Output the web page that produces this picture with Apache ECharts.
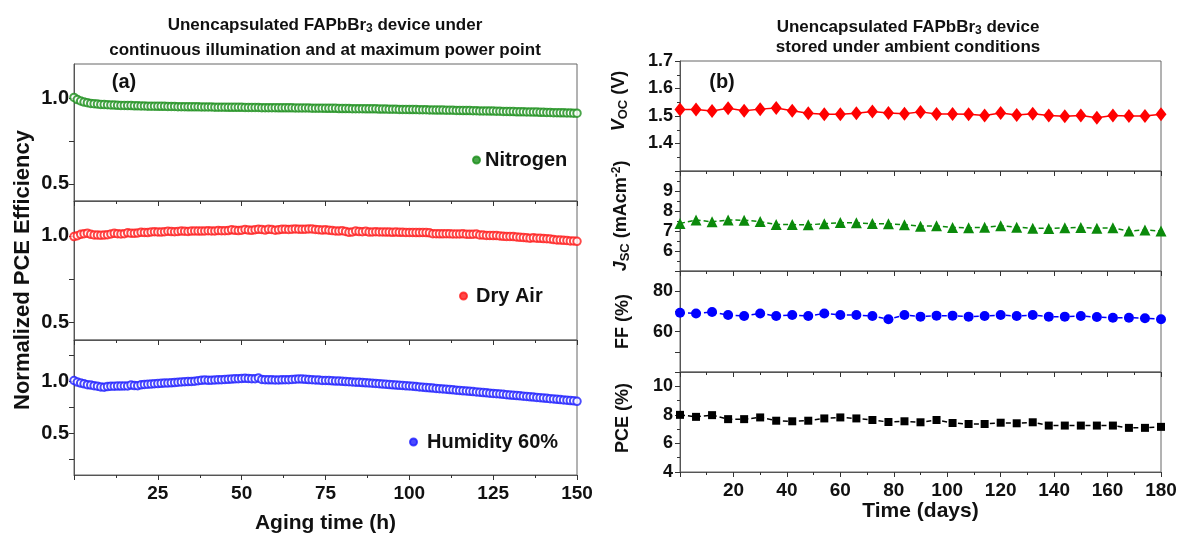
<!DOCTYPE html>
<html>
<head>
<meta charset="utf-8">
<script src="https://cdn.jsdelivr.net/npm/echarts@6/dist/echarts.min.js"></script>
<style>
html, body { margin: 0; padding: 0; background: #fff; }
#chart { width: 1180px; height: 535px; }
</style>
</head>
<body>
<div id="chart"></div>
<script>
// (a) normalized PCE, one value per hour, 0..150 h
const nitrogen = [
    1.005, 0.992, 0.984, 0.978, 0.974, 0.970, 0.968, 0.966, 0.964, 0.963,
    0.962, 0.961, 0.960, 0.959, 0.958, 0.958, 0.957, 0.957, 0.956, 0.956,
    0.955, 0.955, 0.954, 0.954, 0.954, 0.953, 0.953, 0.953, 0.952, 0.952,
    0.952, 0.951, 0.951, 0.951, 0.950, 0.950, 0.950, 0.950, 0.949, 0.949,
    0.949, 0.949, 0.948, 0.948, 0.948, 0.948, 0.947, 0.947, 0.947, 0.947,
    0.947, 0.946, 0.946, 0.946, 0.946, 0.946, 0.945, 0.945, 0.945, 0.945,
    0.945, 0.944, 0.944, 0.944, 0.944, 0.944, 0.943, 0.943, 0.943, 0.943,
    0.943, 0.942, 0.942, 0.942, 0.942, 0.941, 0.941, 0.941, 0.941, 0.940,
    0.940, 0.940, 0.940, 0.939, 0.939, 0.939, 0.939, 0.938, 0.938, 0.938,
    0.938, 0.937, 0.937, 0.937, 0.936, 0.936, 0.936, 0.935, 0.935, 0.935,
    0.934, 0.934, 0.934, 0.933, 0.933, 0.933, 0.932, 0.932, 0.931, 0.931,
    0.931, 0.930, 0.930, 0.930, 0.929, 0.929, 0.928, 0.928, 0.928, 0.927,
    0.927, 0.926, 0.926, 0.926, 0.925, 0.925, 0.924, 0.924, 0.923, 0.923,
    0.922, 0.922, 0.921, 0.921, 0.921, 0.920, 0.920, 0.919, 0.919, 0.918,
    0.918, 0.917, 0.917, 0.916, 0.916, 0.915, 0.915, 0.914, 0.914, 0.913,
    0.913
];
const dryAir = [
    0.995, 1.000, 1.008, 1.012, 1.015, 1.008, 1.005, 1.004, 1.003, 1.004,
    1.006, 1.010, 1.014, 1.012, 1.010, 1.012, 1.017, 1.015, 1.014, 1.016,
    1.020, 1.019, 1.018, 1.022, 1.023, 1.022, 1.021, 1.023, 1.026, 1.024,
    1.023, 1.025, 1.027, 1.026, 1.025, 1.027, 1.028, 1.027, 1.027, 1.028,
    1.029, 1.028, 1.028, 1.030, 1.029, 1.029, 1.030, 1.034, 1.031, 1.030,
    1.032, 1.036, 1.033, 1.031, 1.035, 1.037, 1.036, 1.033, 1.037, 1.036,
    1.032, 1.034, 1.037, 1.038, 1.036, 1.038, 1.039, 1.038, 1.037, 1.038,
    1.039, 1.039, 1.036, 1.035, 1.033, 1.034, 1.032, 1.030, 1.028, 1.027,
    1.029, 1.025, 1.020, 1.022, 1.027, 1.024, 1.023, 1.026, 1.021, 1.022,
    1.023, 1.022, 1.022, 1.021, 1.021, 1.020, 1.021, 1.020, 1.020, 1.019,
    1.019, 1.019, 1.018, 1.018, 1.019, 1.018, 1.017, 1.012, 1.012, 1.011,
    1.011, 1.012, 1.011, 1.010, 1.010, 1.010, 1.011, 1.009, 1.008, 1.009,
    1.010, 1.005, 1.004, 1.002, 1.002, 1.001, 1.001, 0.999, 0.997, 0.996,
    0.996, 0.995, 0.993, 0.991, 0.990, 0.988, 0.986, 0.988, 0.986, 0.985,
    0.984, 0.983, 0.982, 0.978, 0.976, 0.975, 0.974, 0.973, 0.970, 0.970,
    0.968
];
const humidity = [
    1.010, 0.995, 0.985, 0.978, 0.970, 0.966, 0.960, 0.955, 0.948, 0.945,
    0.952, 0.955, 0.955, 0.956, 0.956, 0.957, 0.957, 0.966, 0.961, 0.960,
    0.968, 0.972, 0.975, 0.976, 0.979, 0.980, 0.983, 0.985, 0.986, 0.988,
    0.990, 0.994, 0.996, 0.998, 1.000, 1.001, 1.003, 1.008, 1.012, 1.015,
    1.012, 1.013, 1.015, 1.017, 1.018, 1.020, 1.021, 1.024, 1.026, 1.027,
    1.030, 1.031, 1.030, 1.028, 1.027, 1.034, 1.020, 1.018, 1.017, 1.017,
    1.016, 1.016, 1.017, 1.018, 1.018, 1.020, 1.022, 1.025, 1.024, 1.021,
    1.019, 1.018, 1.016, 1.014, 1.011, 1.010, 1.009, 1.007, 1.005, 1.004,
    1.002, 1.000, 0.998, 0.996, 0.994, 0.992, 0.990, 0.988, 0.986, 0.984,
    0.982, 0.979, 0.976, 0.974, 0.971, 0.968, 0.966, 0.964, 0.962, 0.959,
    0.957, 0.955, 0.952, 0.948, 0.945, 0.942, 0.940, 0.937, 0.934, 0.931,
    0.929, 0.926, 0.923, 0.920, 0.917, 0.914, 0.911, 0.909, 0.906, 0.903,
    0.900, 0.897, 0.894, 0.891, 0.888, 0.886, 0.883, 0.880, 0.877, 0.873,
    0.870, 0.867, 0.865, 0.862, 0.859, 0.856, 0.853, 0.850, 0.847, 0.844,
    0.841, 0.838, 0.835, 0.832, 0.829, 0.826, 0.823, 0.820, 0.817, 0.814,
    0.810
];

// (b) stored under ambient conditions
const days = [0, 6, 12, 18, 24, 30, 36, 42, 48, 54, 60, 66, 72, 78, 84, 90, 96, 102, 108, 114, 120, 126, 132, 138, 144, 150, 156, 162, 168, 174, 180];
const voc = [1.524, 1.524, 1.518, 1.528, 1.519, 1.525, 1.529, 1.519, 1.510, 1.506, 1.506, 1.510, 1.516, 1.511, 1.508, 1.515, 1.507, 1.507, 1.506, 1.502, 1.511, 1.504, 1.508, 1.502, 1.499, 1.502, 1.494, 1.502, 1.500, 1.500, 1.506];
const jsc = [7.38, 7.55, 7.46, 7.55, 7.54, 7.47, 7.32, 7.32, 7.31, 7.36, 7.42, 7.41, 7.37, 7.36, 7.31, 7.24, 7.26, 7.18, 7.16, 7.19, 7.26, 7.19, 7.14, 7.13, 7.16, 7.18, 7.14, 7.16, 7.00, 7.05, 7.00];
const ff = [69.3, 69.0, 69.7, 68.2, 67.7, 69.0, 67.7, 68.2, 67.7, 69.0, 68.2, 68.2, 67.7, 66.1, 68.2, 67.4, 67.9, 67.9, 67.4, 67.7, 68.2, 67.7, 68.2, 67.4, 67.4, 67.7, 67.2, 66.9, 66.9, 66.6, 66.1];
const pce = [8.00, 7.86, 7.98, 7.70, 7.70, 7.82, 7.59, 7.55, 7.59, 7.75, 7.82, 7.75, 7.64, 7.50, 7.55, 7.48, 7.64, 7.43, 7.36, 7.36, 7.45, 7.41, 7.48, 7.25, 7.25, 7.25, 7.25, 7.25, 7.09, 7.09, 7.16];

const FONT = '"Liberation Sans", Arial, sans-serif';
const INK = '#111';

const chart = echarts.init(document.getElementById('chart'));

function xAx(grid, max, step, showLabels, extra) {
    return Object.assign({
        gridIndex: grid, type: 'value', min: 0, max: max, interval: step,
        axisLine: { show: true, lineStyle: { color: '#555', width: 1 } },
        axisTick: { show: true, inside: false, length: 5, lineStyle: { color: '#333' } },
        minorTick: { show: true, splitNumber: 2, length: 3, lineStyle: { color: '#333' } },
        splitLine: { show: false },
        axisLabel: { show: showLabels, showMinLabel: false, margin: 9, color: INK, fontFamily: FONT, fontWeight: 'bold', fontSize: 19 }
    }, extra || {});
}

function yAx(grid, opts) {
    return Object.assign({
        gridIndex: grid, type: 'value',
        axisLine: { show: true, lineStyle: { color: '#555', width: 1 } },
        axisTick: { show: true, inside: false, length: 5, lineStyle: { color: '#333' } },
        splitLine: { show: false }
    }, opts);
}

const leftLabel = { margin: 5, color: INK, fontFamily: FONT, fontWeight: 'bold', fontSize: 20, formatter: v => v.toFixed(1) };
const rightLabel = { margin: 7, color: INK, fontFamily: FONT, fontWeight: 'bold', fontSize: 18 };

const nameBase = { color: INK, fontFamily: FONT, fontWeight: 'bold', fontSize: 18 };
const nameRich = {
    n: nameBase,
    i: Object.assign({}, nameBase, { fontStyle: 'italic' }),
    s: Object.assign({}, nameBase, { fontSize: 13, padding: [9, 0, 0, 0] }),
    u: Object.assign({}, nameBase, { fontSize: 12, padding: [0, 0, 9, 0] })
};

const gridStyle = { show: true, borderColor: '#666', borderWidth: 1, backgroundColor: 'transparent' };

const titleRich = {
    b: { fontFamily: FONT, fontWeight: 'bold', fontSize: 17, fill: INK, color: INK },
    s: { fontFamily: FONT, fontWeight: 'bold', fontSize: 12, fill: INK, color: INK, padding: [8, 0, 0, 0] }
};

function gtext(x, y, text, size, extra) {
    return Object.assign({
        type: 'text', x: x, y: y,
        style: { text: text, fill: INK, fontFamily: FONT, fontWeight: 'bold', fontSize: size, align: 'center', verticalAlign: 'middle' }
    }, extra || {});
}

function legendAt(name, left, top, textPad) {
    return {
        data: [name], left: left, top: top, padding: 0, icon: 'circle',
        itemWidth: 7, itemHeight: 7, selectedMode: false,
        textStyle: { color: INK, fontFamily: FONT, fontWeight: 'bold', fontSize: 20, padding: [0, 0, 0, textPad] }
    };
}

function scatterSeries(name, values, color, idx) {
    return {
        name: name, type: 'scatter', xAxisIndex: idx, yAxisIndex: idx,
        data: values.map((v, h) => [h, v]),
        symbol: 'emptyCircle', symbolSize: 7.5,
        itemStyle: { color: color, borderColor: color, borderWidth: 2.2 },
        clip: false, silent: true
    };
}

function lineSeries(name, values, color, idx, symbol, size, dashed) {
    return {
        name: name, type: 'line', xAxisIndex: idx, yAxisIndex: idx,
        data: values.map((v, i) => [days[i], v]),
        symbol: symbol, symbolSize: size, showAllSymbol: true,
        itemStyle: { color: color },
        lineStyle: { color: color, width: 1.5, type: dashed ? [5, 3] : 'solid' },
        clip: false, silent: true
    };
}

const option = {
    animation: false,
    backgroundColor: '#fff',
    grid: [
        Object.assign({ left: 74, top: 64, width: 503, height: 137 }, gridStyle),
        Object.assign({ left: 74, top: 201, width: 503, height: 139 }, gridStyle),
        Object.assign({ left: 74, top: 340, width: 503, height: 137 }, gridStyle),
        Object.assign({ left: 680, top: 61, width: 481, height: 110 }, gridStyle),
        Object.assign({ left: 680, top: 171, width: 481, height: 100 }, gridStyle),
        Object.assign({ left: 680, top: 271, width: 481, height: 101 }, gridStyle),
        Object.assign({ left: 680, top: 372, width: 481, height: 100 }, gridStyle)
    ],
    xAxis: [
        xAx(0, 150, 25, false),
        xAx(1, 150, 25, false),
        xAx(2, 150, 25, true, {
            name: 'Aging time (h)', nameLocation: 'middle', nameGap: 38,
            nameTextStyle: { color: INK, fontFamily: FONT, fontWeight: 'bold', fontSize: 21 }
        }),
        xAx(3, 180, 20, false),
        xAx(4, 180, 20, false),
        xAx(5, 180, 20, false),
        xAx(6, 180, 20, true, {
            name: 'Time (days)', nameLocation: 'middle', nameGap: 27,
            nameTextStyle: { color: INK, fontFamily: FONT, fontWeight: 'bold', fontSize: 21 }
        })
    ],
    yAxis: [
        yAx(0, { min: 0.4, max: 1.2, axisLabel: Object.assign({ customValues: [0.5, 1.0] }, leftLabel),
            axisTick: { show: true, length: 5, customValues: [0.5, 0.75, 1.0], lineStyle: { color: '#333' } } }),
        yAx(1, { min: 0.4, max: 1.2, axisLabel: Object.assign({ customValues: [0.5, 1.0] }, leftLabel),
            axisTick: { show: true, length: 5, customValues: [0.5, 0.75, 1.0], lineStyle: { color: '#333' } } }),
        yAx(2, { min: 0.1, max: 1.4, axisLabel: Object.assign({ customValues: [0.5, 1.0] }, leftLabel),
            axisTick: { show: true, length: 5, customValues: [0.25, 0.5, 0.75, 1.0, 1.25], lineStyle: { color: '#333' } } }),
        yAx(3, { min: 1.3, max: 1.7, interval: 0.1,
            minorTick: { show: true, splitNumber: 2, length: 3, lineStyle: { color: '#333' } },
            axisLabel: Object.assign({ showMinLabel: false, formatter: v => v.toFixed(1) }, rightLabel),
            name: '{i|V}{s|OC}{n| (V)}', nameLocation: 'middle', nameGap: 50,
            nameTextStyle: { rich: nameRich, padding: [0, 0, 0, 30] } }),
        yAx(4, { min: 5, max: 10, interval: 1,
            minorTick: { show: true, splitNumber: 2, length: 3, lineStyle: { color: '#333' } },
            axisLabel: Object.assign({ showMinLabel: false, showMaxLabel: false }, rightLabel),
            name: '{i|J}{s|SC}{n| (mAcm}{u|-2}{n|)}', nameLocation: 'middle', nameGap: 48,
            nameTextStyle: { rich: nameRich, padding: [0, 0, 0, 10] } }),
        yAx(5, { min: 40, max: 90, interval: 10,
            axisLabel: Object.assign({ formatter: v => (v === 60 || v === 80) ? String(v) : '' }, rightLabel),
            name: 'FF (%)', nameLocation: 'middle', nameGap: 48,
            nameTextStyle: nameBase }),
        yAx(6, { min: 4, max: 11, interval: 2,
            minorTick: { show: true, splitNumber: 2, length: 3, lineStyle: { color: '#333' } },
            axisLabel: Object.assign({ showMaxLabel: false }, rightLabel),
            name: 'PCE (%)', nameLocation: 'middle', nameGap: 48,
            nameTextStyle: Object.assign({ padding: [0, 0, 0, 8] }, nameBase) })
    ],
    legend: [
        legendAt('Nitrogen', 472, 150, 0),
        legendAt('Dry Air', 459, 286, 4),
        legendAt('Humidity 60%', 409, 432, 5)
    ],
    series: [
        scatterSeries('Nitrogen', nitrogen, '#1b8f1b', 0),
        scatterSeries('Dry Air', dryAir, '#ff1a1a', 1),
        scatterSeries('Humidity 60%', humidity, '#1e1eff', 2),
        lineSeries('Voc', voc, '#ff0000', 3, 'diamond', [11, 14], false),
        lineSeries('Jsc', jsc, '#0b8a0b', 4, 'triangle', 11, true),
        lineSeries('FF', ff, '#0000ff', 5, 'circle', 10, true),
        lineSeries('PCE', pce, '#000000', 6, 'rect', 8, true)
    ],
    graphic: [
        gtext(325, 25, '', 17, { style: { text: '{b|Unencapsulated FAPbBr}{s|3}{b| device under}', rich: titleRich, align: 'center', verticalAlign: 'middle' } }),
        gtext(325, 50, 'continuous illumination and at maximum power point', 17),
        gtext(908, 27, '', 17, { style: { text: '{b|Unencapsulated FAPbBr}{s|3}{b| device}', rich: titleRich, align: 'center', verticalAlign: 'middle' } }),
        gtext(908, 47, 'stored under ambient conditions', 17),
        gtext(124, 82, '(a)', 20),
        gtext(722, 82, '(b)', 20),
        gtext(23, 270, 'Normalized PCE Efficiency', 22, { rotation: Math.PI / 2 })
    ]
};

chart.setOption(option);
</script>
</body>
</html>
